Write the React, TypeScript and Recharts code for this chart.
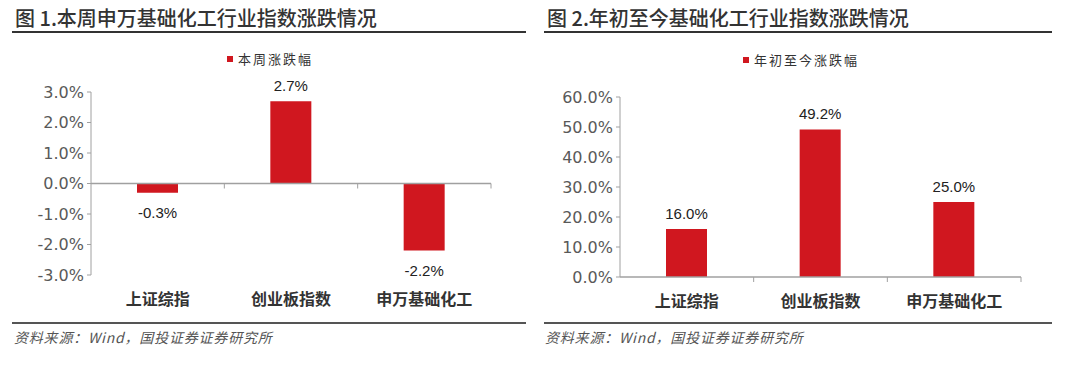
import { BarChart, Bar, XAxis, YAxis, ReferenceLine, LabelList, Legend } from 'recharts'

const categories = ['上证综指', '创业板指数', '申万基础化工']
const weeklyChange = [-0.3, 2.7, -2.2]
const ytdChange = [16.0, 49.2, 25.0]
const weeklyTicks = [-3, -2, -1, 0, 1, 2, 3]
const ytdTicks = [0, 10, 20, 30, 40, 50, 60]

const RED = '#D0171F'
const AXIS = '#a0a0a0'
const CJK = '"Noto Sans CJK SC", sans-serif'

function ValueLabel(props: any) {
  const { x, y, width, height, value } = props
  const top = Math.min(y, y + height)
  const bottom = Math.max(y, y + height)
  const ty = value >= 0 ? top - 10 : bottom + 25
  return (
    <text
      x={x + width / 2}
      y={ty}
      textAnchor="middle"
      fontFamily='"Liberation Sans", Arial, sans-serif'
      fontSize={15}
      fill="#222"
    >
      {Number(value).toFixed(1)}%
    </text>
  )
}

function CategoryTick(props: any) {
  const { x, y, payload } = props
  return (
    <text
      x={x}
      y={y + 23}
      textAnchor="middle"
      dominantBaseline="central"
      fontFamily={CJK}
      fontWeight={600}
      fontSize={16}
      fill="#333"
    >
      {payload.value}
    </text>
  )
}

// zero line with the small tick marks between categories
function ZeroLine(props: any) {
  const { x1, y1, x2 } = props
  const n = categories.length
  const step = (x2 - x1) / n
  const marks = []
  for (let i = 1; i <= n; i++) {
    const mx = x1 + step * i
    marks.push(<line key={i} x1={mx} x2={mx} y1={y1} y2={y1 + 5} stroke={AXIS} strokeWidth={1} />)
  }
  return (
    <g>
      <line x1={x1} x2={x2} y1={y1} y2={y1} stroke={AXIS} strokeWidth={1.5} />
      {marks}
    </g>
  )
}

interface PanelProps {
  values: number[]
  ticks: number[]
  legendLabel: string
  left: number
  margin: { top: number; right: number; left: number; bottom: number }
  xHeight: number
  legendPos: { left: number; top: number }
}

function Panel({ values, ticks, legendLabel, left, margin, xHeight, legendPos }: PanelProps) {
  const data = categories.map((name, i) => ({ name, value: values[i] }))
  return (
    <div style={{ position: 'absolute', left, top: 0 }}>
      <BarChart width={540} height={320} data={data} margin={margin}>
        <Legend
          verticalAlign="top"
          wrapperStyle={{ position: 'absolute', left: legendPos.left, top: legendPos.top, width: 'auto' }}
          content={() => (
            <div style={{ display: 'flex', alignItems: 'center', fontFamily: CJK, fontSize: 13, color: '#333', letterSpacing: 2 }}>
              <span style={{ width: 6, height: 6, background: RED, display: 'inline-block', marginRight: 5 }} />
              <span>{legendLabel}</span>
            </div>
          )}
        />
        <XAxis
          dataKey="name"
          axisLine={false}
          tickLine={false}
          tickSize={0}
          tickMargin={0}
          height={xHeight}
          tick={<CategoryTick />}
          interval={0}
        />
        <YAxis
          width={80}
          domain={[ticks[0], ticks[ticks.length - 1]]}
          ticks={ticks}
          interval={0}
          tickSize={4}
          tickMargin={3}
          axisLine={{ stroke: AXIS }}
          tickLine={{ stroke: AXIS }}
          tickFormatter={(v: number) => `${v.toFixed(1)}%`}
          tick={{ fill: '#595959', fontSize: 16, fontFamily: '"DejaVu Sans", sans-serif' }}
        />
        <Bar dataKey="value" fill={RED} barSize={41} isAnimationActive={false}>
          <LabelList dataKey="value" content={<ValueLabel />} />
        </Bar>
        <ReferenceLine y={0} shape={<ZeroLine />} />
      </BarChart>
    </div>
  )
}

const titleStyle: React.CSSProperties = {
  position: 'absolute',
  top: 4,
  fontFamily: CJK,
  fontWeight: 500,
  fontSize: 20,
  lineHeight: '28px',
  color: '#333',
  whiteSpace: 'nowrap',
}

const footStyle: React.CSSProperties = {
  position: 'absolute',
  top: 327,
  fontFamily: CJK,
  fontStyle: 'italic',
  fontSize: 14,
  lineHeight: '20px',
  letterSpacing: 0.8,
  color: '#555',
  whiteSpace: 'nowrap',
}

function Rule({ left, width, top, color }: { left: number; width: number; top: number; color: string }) {
  return <div style={{ position: 'absolute', left, width, top, height: 2, background: color }} />
}

export default function App() {
  return (
    <div style={{ position: 'absolute', left: 0, top: 0, width: 1080, height: 384, background: '#fff' }}>
      <div style={{ ...titleStyle, left: 15 }}>图 1.本周申万基础化工行业指数涨跌情况</div>
      <div style={{ ...titleStyle, left: 547 }}>图 2.年初至今基础化工行业指数涨跌情况</div>
      <Rule left={12} width={514} top={31} color="#333" />
      <Rule left={544} width={508} top={31} color="#333" />

      <Panel
        values={weeklyChange}
        ticks={weeklyTicks}
        legendLabel="本周涨跌幅"
        left={0}
        margin={{ top: 73, right: 49, left: 11, bottom: 0 }}
        xHeight={45}
        legendPos={{ left: 227, top: 49 }}
      />
      <Panel
        values={ytdChange}
        ticks={ytdTicks}
        legendLabel="年初至今涨跌幅"
        left={540}
        margin={{ top: 78, right: 59, left: 0, bottom: 0 }}
        xHeight={43}
        legendPos={{ left: 203, top: 50 }}
      />

      <Rule left={12} width={514} top={322} color="#555" />
      <Rule left={544} width={508} top={322} color="#555" />
      <div style={{ ...footStyle, left: 14 }}>资料来源：Wind，国投证券证券研究所</div>
      <div style={{ ...footStyle, left: 545 }}>资料来源：Wind，国投证券证券研究所</div>
    </div>
  )
}
